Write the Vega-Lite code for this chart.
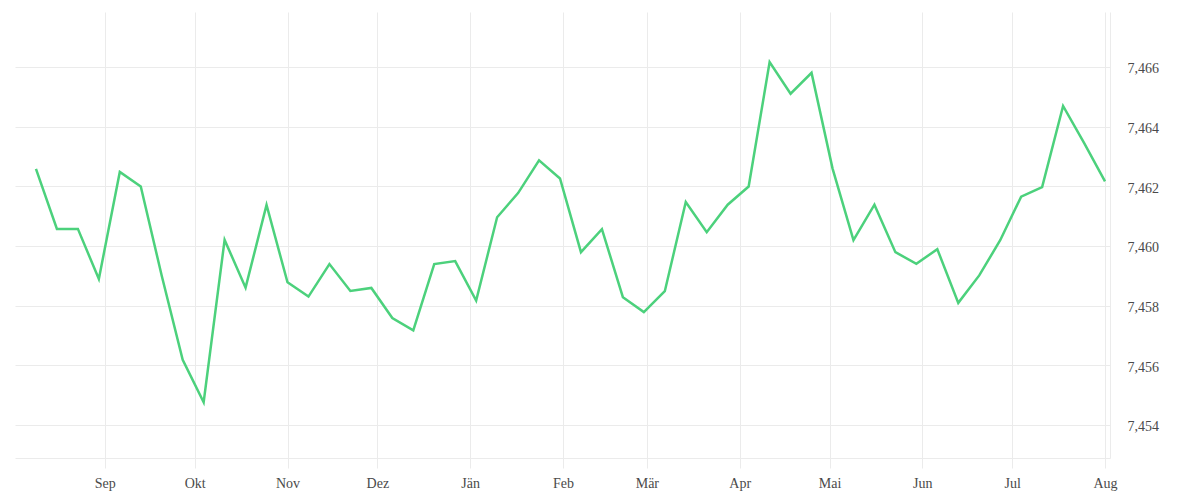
{
  "$schema": "https://vega.github.io/schema/vega-lite/v6.json",
  "width": 1095,
  "height": 446,
  "autosize": "none",
  "padding": {"left": 15, "top": 12, "right": 90, "bottom": 42},
  "background": "white",
  "data": {
    "values": [
      {"date": "2024-08-09", "rate": 7.46258},
      {"date": "2024-08-16", "rate": 7.46057},
      {"date": "2024-08-23", "rate": 7.46057},
      {"date": "2024-08-30", "rate": 7.45889},
      {"date": "2024-09-06", "rate": 7.46248},
      {"date": "2024-09-13", "rate": 7.46199},
      {"date": "2024-09-20", "rate": 7.45900},
      {"date": "2024-09-27", "rate": 7.45618},
      {"date": "2024-10-04", "rate": 7.45476},
      {"date": "2024-10-11", "rate": 7.46020},
      {"date": "2024-10-18", "rate": 7.45860},
      {"date": "2024-10-25", "rate": 7.46137},
      {"date": "2024-11-01", "rate": 7.45878},
      {"date": "2024-11-08", "rate": 7.45830},
      {"date": "2024-11-15", "rate": 7.45939},
      {"date": "2024-11-22", "rate": 7.45849},
      {"date": "2024-11-29", "rate": 7.45859},
      {"date": "2024-12-06", "rate": 7.45758},
      {"date": "2024-12-13", "rate": 7.45717},
      {"date": "2024-12-20", "rate": 7.45939},
      {"date": "2024-12-27", "rate": 7.45949},
      {"date": "2025-01-03", "rate": 7.45817},
      {"date": "2025-01-10", "rate": 7.46096},
      {"date": "2025-01-17", "rate": 7.46177},
      {"date": "2025-01-24", "rate": 7.46287},
      {"date": "2025-01-31", "rate": 7.46226},
      {"date": "2025-02-07", "rate": 7.45979},
      {"date": "2025-02-14", "rate": 7.46056},
      {"date": "2025-02-21", "rate": 7.45828},
      {"date": "2025-02-28", "rate": 7.45778},
      {"date": "2025-03-07", "rate": 7.45848},
      {"date": "2025-03-14", "rate": 7.46147},
      {"date": "2025-03-21", "rate": 7.46046},
      {"date": "2025-03-28", "rate": 7.46138},
      {"date": "2025-04-04", "rate": 7.46199},
      {"date": "2025-04-11", "rate": 7.46616},
      {"date": "2025-04-18", "rate": 7.46510},
      {"date": "2025-04-25", "rate": 7.46580},
      {"date": "2025-05-02", "rate": 7.46260},
      {"date": "2025-05-09", "rate": 7.46019},
      {"date": "2025-05-16", "rate": 7.46138},
      {"date": "2025-05-23", "rate": 7.45979},
      {"date": "2025-05-30", "rate": 7.45940},
      {"date": "2025-06-06", "rate": 7.45989},
      {"date": "2025-06-13", "rate": 7.45809},
      {"date": "2025-06-20", "rate": 7.45901},
      {"date": "2025-06-27", "rate": 7.46019},
      {"date": "2025-07-04", "rate": 7.46165},
      {"date": "2025-07-11", "rate": 7.46197},
      {"date": "2025-07-18", "rate": 7.46469},
      {"date": "2025-07-25", "rate": 7.46345},
      {"date": "2025-08-01", "rate": 7.46216}
    ]
  },
  "mark": {"type": "line", "color": "#4cd17c", "strokeWidth": 2.5, "strokeJoin": "miter", "interpolate": "linear"},
  "encoding": {
    "x": {
      "field": "date",
      "type": "temporal",
      "scale": {
        "type": "utc",
        "domain": [
          {"year": 2024, "month": 8, "date": 2, "utc": true},
          {"year": 2025, "month": 8, "date": 2, "hours": 16, "utc": true}
        ]
      },
      "axis": {
        "title": null,
        "labelExpr": "utcFormat(datum.value, '%b')",
        "values": [
          {"year": 2024, "month": 9, "date": 1, "utc": true},
          {"year": 2024, "month": 10, "date": 1, "utc": true},
          {"year": 2024, "month": 11, "date": 1, "utc": true},
          {"year": 2024, "month": 12, "date": 1, "utc": true},
          {"year": 2025, "month": 1, "date": 1, "utc": true},
          {"year": 2025, "month": 2, "date": 1, "utc": true},
          {"year": 2025, "month": 3, "date": 1, "utc": true},
          {"year": 2025, "month": 4, "date": 1, "utc": true},
          {"year": 2025, "month": 5, "date": 1, "utc": true},
          {"year": 2025, "month": 6, "date": 1, "utc": true},
          {"year": 2025, "month": 7, "date": 1, "utc": true},
          {"year": 2025, "month": 8, "date": 1, "utc": true}
        ],
        "grid": true,
        "gridColor": "#ebebeb",
        "gridWidth": 1,
        "ticks": true,
        "tickColor": "#ebebeb",
        "tickSize": 10,
        "domain": true,
        "domainColor": "#ebebeb",
        "domainWidth": 1,
        "labelPadding": 8,
        "labelFont": "Liberation Serif",
        "labelFontSize": 14,
        "labelColor": "#4a4a4a",
        "labelAlign": "center",
        "labelFlush": false,
        "labelOverlap": false
      }
    },
    "y": {
      "field": "rate",
      "type": "quantitative",
      "scale": {"domain": [7.45289, 7.46784], "nice": false, "zero": false},
      "axis": {
        "title": null,
        "orient": "right",
        "values": [7.454, 7.456, 7.458, 7.46, 7.462, 7.464, 7.466],
        "format": ".3f",
        "grid": true,
        "gridColor": "#ebebeb",
        "gridWidth": 1,
        "ticks": false,
        "domain": true,
        "domainColor": "#ebebeb",
        "domainWidth": 1,
        "labelPadding": 17,
        "labelOffset": 2,
        "labelFont": "Liberation Serif",
        "labelFontSize": 14,
        "labelColor": "#4a4a4a",
        "labelBaseline": "middle",
        "labelFlush": false,
        "labelOverlap": false
      }
    }
  },
  "config": {
    "view": {"stroke": null},
    "locale": {
      "number": {"decimal": ",", "thousands": ".", "grouping": [3], "currency": ["", " €"]},
      "time": {
        "dateTime": "%A, der %e. %B %Y, %X",
        "date": "%d.%m.%Y",
        "time": "%H:%M:%S",
        "periods": ["AM", "PM"],
        "days": ["Sonntag", "Montag", "Dienstag", "Mittwoch", "Donnerstag", "Freitag", "Samstag"],
        "shortDays": ["So", "Mo", "Di", "Mi", "Do", "Fr", "Sa"],
        "months": ["Jänner", "Februar", "März", "April", "Mai", "Juni", "Juli", "August", "September", "Oktober", "November", "Dezember"],
        "shortMonths": ["Jän", "Feb", "Mär", "Apr", "Mai", "Jun", "Jul", "Aug", "Sep", "Okt", "Nov", "Dez"]
      }
    }
  }
}
